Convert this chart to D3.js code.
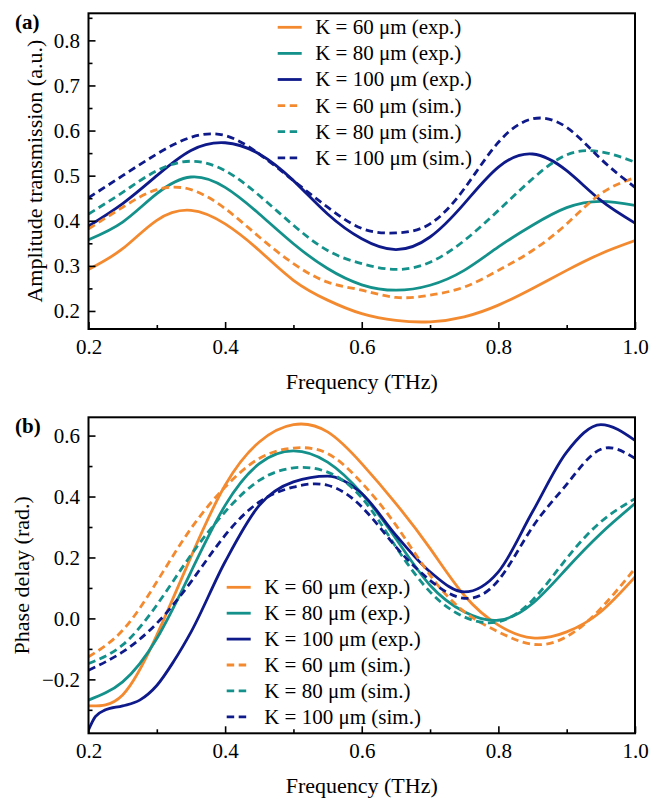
<!DOCTYPE html>
<html>
<head>
<meta charset="utf-8">
<script src="https://cdn.jsdelivr.net/npm/d3@7"></script>
<style>
  body { margin: 0; background: #fff; }
  svg { display: block; }
  svg text { font-family: "Liberation Serif", "Times New Roman", Tinos, "DejaVu Serif", serif; }
</style>
</head>
<body>
<div id="chart"></div>
<script>
/* global d3 */

// Frequency grid (THz)
const freq = [0.2, 0.25, 0.3, 0.35, 0.4, 0.45, 0.5, 0.55, 0.6, 0.65, 0.7, 0.75, 0.8, 0.85, 0.9, 0.95, 1.0]
// finer start for the K = 100 phase curve (it has a shoulder)
const freqFine = [0.2, 0.21, 0.225, 0.25, 0.275, 0.3, 0.325, 0.35, 0.4, 0.45, 0.5, 0.55, 0.6, 0.65, 0.7, 0.75, 0.8, 0.85, 0.9, 0.95, 1.0]

// (a) amplitude transmission
const ampExp60 = [0.292, 0.338, 0.401, 0.423, 0.393, 0.334, 0.268, 0.224, 0.194, 0.179, 0.176, 0.187, 0.213, 0.25, 0.29, 0.327, 0.356]
const ampExp80 = [0.358, 0.397, 0.46, 0.497, 0.474, 0.415, 0.349, 0.294, 0.258, 0.246, 0.257, 0.29, 0.342, 0.39, 0.429, 0.443, 0.434]
const ampExp100 = [0.388, 0.438, 0.5, 0.556, 0.573, 0.548, 0.489, 0.415, 0.36, 0.336, 0.364, 0.438, 0.519, 0.548, 0.511, 0.445, 0.395]
const ampSim60 = [0.382, 0.43, 0.469, 0.469, 0.427, 0.364, 0.305, 0.264, 0.246, 0.23, 0.235, 0.253, 0.29, 0.334, 0.393, 0.46, 0.496]
const ampSim80 = [0.415, 0.463, 0.511, 0.532, 0.511, 0.456, 0.39, 0.334, 0.305, 0.292, 0.308, 0.356, 0.423, 0.493, 0.546, 0.553, 0.53]
const ampSim100 = [0.451, 0.5, 0.548, 0.585, 0.589, 0.548, 0.489, 0.43, 0.383, 0.373, 0.393, 0.471, 0.574, 0.626, 0.607, 0.537, 0.474]

// (b) phase delay
const phExp60 = [-0.287, -0.251, -0.055, 0.202, 0.437, 0.579, 0.636, 0.612, 0.508, 0.377, 0.23, 0.076, -0.022, -0.064, -0.044, 0.022, 0.136]
const phExp80 = [-0.268, -0.208, -0.066, 0.153, 0.371, 0.508, 0.55, 0.513, 0.41, 0.262, 0.109, 0.022, -0.006, 0.049, 0.164, 0.279, 0.377]
const phExp100 = [-0.366, -0.322, -0.3, -0.287, -0.268, -0.22, -0.14, -0.045, 0.186, 0.371, 0.448, 0.467, 0.41, 0.273, 0.153, 0.087, 0.153, 0.35, 0.546, 0.636, 0.584]
const phSim60 = [-0.126, -0.039, 0.12, 0.295, 0.431, 0.525, 0.559, 0.541, 0.445, 0.306, 0.142, 0.022, -0.044, -0.085, -0.06, 0.033, 0.164]
const phSim80 = [-0.148, -0.087, 0.044, 0.208, 0.35, 0.453, 0.494, 0.48, 0.396, 0.235, 0.087, 0.005, -0.011, 0.06, 0.197, 0.317, 0.393]
const phSim100 = [-0.17, -0.11, -0.016, 0.12, 0.273, 0.382, 0.431, 0.437, 0.366, 0.235, 0.125, 0.066, 0.125, 0.3, 0.44, 0.555, 0.525]

const legendLabels = ['K = 60 μm (exp.)', 'K = 80 μm (exp.)', 'K = 100 μm (exp.)',
  'K = 60 μm (sim.)', 'K = 80 μm (sim.)', 'K = 100 μm (sim.)']

const xMajor = [0.2, 0.4, 0.6, 0.8, 1.0]
const xMinor = [0.3, 0.5, 0.7, 0.9]
const ampMajor = [0.2, 0.3, 0.4, 0.5, 0.6, 0.7, 0.8]
const ampMinor = [0.25, 0.35, 0.45, 0.55, 0.65, 0.75, 0.85]
const phMajor = [-0.2, 0.0, 0.2, 0.4, 0.6]
const phMinor = [-0.3, -0.1, 0.1, 0.3, 0.5]

// Our canvas
const width = 649,
  height = 803,
  left = 88.5,
  right = 635

const orange = '#F38A30',
  teal = '#14918B',
  navy = '#0F1A8A'

const svg = d3.select('#chart')
  .append('svg')
  .attr('width', width)
  .attr('height', height)

const xScale = d3.scaleLinear()
  .domain([0.2, 1.0])
  .range([left, right])

let panel = (p) => {
  const g = svg.append('g')
  const yScale = d3.scaleLinear()
    .domain(p.yDomain)
    .range([p.bottom, p.top])

  const clipId = 'clip-' + p.tag
  g.append('clipPath').attr('id', clipId)
    .append('rect')
    .attr('x', left).attr('y', p.top)
    .attr('width', right - left).attr('height', p.bottom - p.top)

  let line = (s) => d3.line()
    .x((d, i) => xScale(s.x[i]))
    .y(d => yScale(d))
    .curve(s.curve || d3.curveNatural)

  g.append('g').attr('clip-path', `url(#${clipId})`)
    .selectAll('path')
    .data(p.series)
    .enter()
    .append('path')
    .attr('d', s => line(s)(s.y))
    .attr('fill', 'none')
    .attr('stroke', s => s.color)
    .attr('stroke-width', 2.8)
    .attr('stroke-dasharray', s => s.dashed ? '7.5,4.5' : null)

  // axes, ticks pointing inward
  let xAx = g.append('g')
    .attr('transform', `translate(0,${p.bottom})`)
    .call(d3.axisBottom(xScale).tickValues(xMajor).tickFormat(d3.format('.1f'))
      .tickSizeInner(-7).tickSizeOuter(0).tickPadding(10))
  g.append('g')
    .attr('transform', `translate(0,${p.bottom})`)
    .call(d3.axisBottom(xScale).tickValues(xMinor).tickFormat('')
      .tickSizeInner(-4).tickSizeOuter(0))
  let yAx = g.append('g')
    .attr('transform', `translate(${left},0)`)
    .call(d3.axisLeft(yScale).tickValues(p.yMajor).tickFormat(d3.format('.1f'))
      .tickSizeInner(-7).tickSizeOuter(0).tickPadding(8.5))
  g.append('g')
    .attr('transform', `translate(${left},0)`)
    .call(d3.axisLeft(yScale).tickValues(p.yMinor).tickFormat('')
      .tickSizeInner(-4).tickSizeOuter(0))

  g.selectAll('.domain').remove()
  g.selectAll('.tick line').attr('stroke', '#000').attr('stroke-width', 1.6)
  xAx.attr('font-size', 21)
  yAx.attr('font-size', 21)

  g.append('rect')
    .attr('x', left).attr('y', p.top)
    .attr('width', right - left).attr('height', p.bottom - p.top)
    .attr('fill', 'none')
    .attr('stroke', '#000')
    .attr('stroke-width', 2)

  // axis titles
  g.append('text')
    .attr('x', (left + right) / 2)
    .attr('y', p.bottom + 60)
    .attr('text-anchor', 'middle')
    .attr('font-size', 22)
    .text('Frequency (THz)')
  g.append('text')
    .attr('transform', `translate(${p.titleX},${(p.top + p.bottom) / 2}) rotate(-90)`)
    .attr('text-anchor', 'middle')
    .attr('font-size', 22)
    .text(p.yTitle)

  // panel label
  g.append('text')
    .attr('x', 15)
    .attr('y', p.top + 15.5)
    .attr('font-size', 21)
    .attr('font-weight', 'bold')
    .text(p.label)

  // legend
  const leg = g.selectAll('.leg')
    .data(p.series)
    .enter()
    .append('g')
    .attr('transform', (d, i) => `translate(${p.legX},${p.legY + i * p.legStep})`)
  leg.append('line')
    .attr('x1', 0).attr('x2', 24)
    .attr('stroke', s => s.color)
    .attr('stroke-width', 2.8)
    .attr('stroke-dasharray', s => s.dashed ? '7.5,4.5' : null)
  leg.append('text')
    .attr('x', 37.5)
    .attr('dy', '0.33em')
    .attr('font-size', 21)
    .text((d, i) => legendLabels[i])
}

panel({
  tag: 'a', label: '(a)', top: 13.3, bottom: 329,
  yDomain: [0.16, 0.86], yMajor: ampMajor, yMinor: ampMinor,
  yTitle: 'Amplitude transmission (a.u.)', titleX: 42,
  legX: 277.7, legY: 27.3, legStep: 26.1,
  series: [
    { x: freq, y: ampExp60, color: orange, dashed: false },
    { x: freq, y: ampExp80, color: teal, dashed: false },
    { x: freq, y: ampExp100, color: navy, dashed: false },
    { x: freq, y: ampSim60, color: orange, dashed: true },
    { x: freq, y: ampSim80, color: teal, dashed: true },
    { x: freq, y: ampSim100, color: navy, dashed: true }
  ]
})

panel({
  tag: 'b', label: '(b)', top: 417.3, bottom: 733.3,
  yDomain: [-0.377, 0.66], yMajor: phMajor, yMinor: phMinor,
  yTitle: 'Phase delay (rad.)', titleX: 29,
  legX: 226.7, legY: 587.3, legStep: 25.9,
  series: [
    { x: freq, y: phExp60, color: orange, dashed: false },
    { x: freq, y: phExp80, color: teal, dashed: false },
    { x: freqFine, y: phExp100, color: navy, dashed: false, curve: d3.curveMonotoneX },
    { x: freq, y: phSim60, color: orange, dashed: true },
    { x: freq, y: phSim80, color: teal, dashed: true },
    { x: freq, y: phSim100, color: navy, dashed: true }
  ]
})
</script>
</body>
</html>
